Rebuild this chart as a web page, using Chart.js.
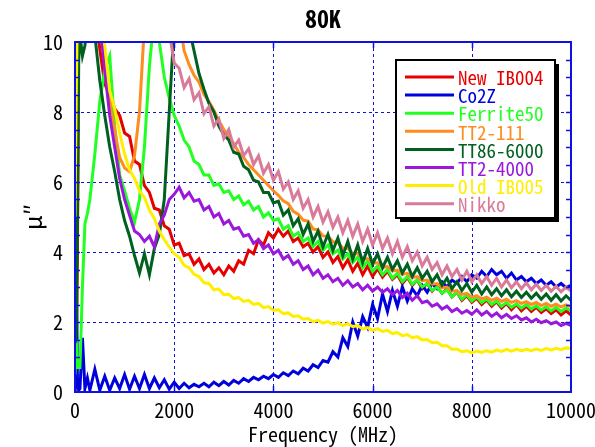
<!DOCTYPE html>
<html>
<head>
<meta charset="utf-8">
<script src="https://cdn.jsdelivr.net/npm/chart.js@4.4.1/dist/chart.umd.min.js"></script>
<style>
html, body { margin: 0; padding: 0; background: #fff; }
</style>
</head>
<body>
<canvas id="chart" width="595" height="447"></canvas>
<script>
// 80K - mu'' vs frequency for several ferrite samples

const freqMHz = [0, 25, 50, 75, 100, 150, 200, 250, 300,
    400, 500, 600, 700, 800, 900, 1000,
    1100, 1200, 1300, 1400, 1500, 1600, 1700, 1800, 1900, 2000,
    2100, 2200, 2300, 2400, 2500, 2600, 2700, 2800, 2900, 3000,
    3100, 3200, 3300, 3400, 3500, 3600, 3700, 3800, 3900, 4000,
    4100, 4200, 4300, 4400, 4500, 4600, 4700, 4800, 4900, 5000,
    5100, 5200, 5300, 5400, 5500, 5600, 5700, 5800, 5900, 6000,
    6100, 6200, 6300, 6400, 6500, 6600, 6700, 6800, 6900, 7000,
    7100, 7200, 7300, 7400, 7500, 7600, 7700, 7800, 7900, 8000,
    8100, 8200, 8300, 8400, 8500, 8600, 8700, 8800, 8900, 9000,
    9100, 9200, 9300, 9400, 9500, 9600, 9700, 9800, 9900, 10000];

const newIB004 = [0, 1.0, 4.0, 10.5, 11, 11, 11, 11, 11,
    11, 9.8, 8.8, 8.5, 8.1, 7.9, 7.4,
    7.3, 6.6, 6.5, 5.9, 5.7, 5.25, 5.2, 4.75, 4.65, 4.2,
    4.25, 3.9, 3.95, 3.65, 3.8, 3.5, 3.65, 3.4, 3.55, 3.35,
    3.6, 3.45, 3.75, 3.65, 4.05, 3.95, 4.35, 4.2, 4.55, 4.4,
    4.65, 4.45, 4.6, 4.3, 4.4, 4.15, 4.25, 4.0, 4.15, 3.85,
    4.0, 3.7, 3.87, 3.55, 3.78, 3.45, 3.68, 3.35, 3.6, 3.3,
    3.52, 3.28, 3.45, 3.22, 3.35, 3.1, 3.27, 3.05, 3.2, 2.95,
    3.1, 2.88, 3.02, 2.82, 2.95, 2.72, 2.85, 2.62, 2.75, 2.56,
    2.68, 2.5, 2.63, 2.45, 2.58, 2.4, 2.53, 2.35, 2.5, 2.32,
    2.45, 2.3, 2.42, 2.27, 2.38, 2.24, 2.35, 2.2, 2.32, 2.2];

const co2Z = [0, 4.0, 0.2, 0.05, 0.1, 1.55, 0.1, 0.4, 0.05,
    0.65, 0.05, 0.45, 0.05, 0.4, 0.1, 0.5,
    0.08, 0.45, 0.1, 0.5, 0.1, 0.4, 0.12, 0.35, 0.08, 0.28,
    0.1, 0.25, 0.12, 0.22, 0.15, 0.25, 0.15, 0.28, 0.18, 0.3,
    0.2, 0.33, 0.25, 0.38, 0.3, 0.42, 0.35, 0.45, 0.38, 0.5,
    0.42, 0.55, 0.47, 0.6, 0.52, 0.68, 0.6, 0.78, 0.7, 0.9,
    0.85, 1.15, 1.0, 1.55, 1.3, 2.0, 1.6, 2.15, 1.85, 2.5,
    2.1, 2.8, 2.3, 2.9, 2.45, 3.0, 2.6, 2.95, 2.75, 3.05,
    2.85, 3.1, 2.95, 3.15, 3.0, 3.2, 3.1, 3.3, 3.15, 3.35,
    3.25, 3.45, 3.3, 3.5, 3.35, 3.45, 3.25, 3.4, 3.2, 3.3,
    3.15, 3.25, 3.1, 3.2, 3.05, 3.15, 3.0, 3.1, 2.98, 3.05];

const ferrite50 = [0.5, 1.5, 0.7, 0.7, 0.7, 3.0, 4.8, 5.1, 5.5,
    6.8, 8.3, 9.2, 9.6, 7.6, 6.2, 5.75,
    5.25, 4.85, 5.5, 7.0, 9.3, 10.8, 10.0, 9.0, 8.4, 7.9,
    7.6, 7.2, 7.0, 6.6, 6.5, 6.2, 6.2, 5.9, 5.95, 5.7,
    5.75, 5.5, 5.6, 5.35, 5.45, 5.2, 5.3, 5.0, 5.12, 4.9,
    4.95, 4.65, 4.75, 4.45, 4.55, 4.3, 4.4, 4.15, 4.3, 4.05,
    4.2, 3.95, 4.05, 3.8, 3.95, 3.7, 3.85, 3.55, 3.75, 3.45,
    3.6, 3.35, 3.5, 3.25, 3.4, 3.15, 3.3, 3.08, 3.2, 3.0,
    3.1, 2.9, 3.0, 2.82, 2.92, 2.72, 2.85, 2.65, 2.78, 2.6,
    2.72, 2.55, 2.66, 2.5, 2.6, 2.45, 2.56, 2.42, 2.52, 2.4,
    2.5, 2.37, 2.47, 2.34, 2.44, 2.32, 2.42, 2.3, 2.4, 2.32];

const tt2_111 = [12, 12, 12, 12, 12, 12, 12, 12, 12,
    12, 11, 9.6, 8.3, 7.5, 6.7, 6.4,
    6.3, 6.75, 8.0, 10.5, 12, 12, 12, 12, 12, 12,
    10.7, 9.75, 9.35, 9.05, 8.85, 8.5, 8.3, 8.05, 7.75, 7.5,
    7.3, 7.1, 6.85, 6.7, 6.5, 6.35, 6.2, 6.05, 5.9, 5.75,
    5.62, 5.46, 5.38, 5.16, 5.08, 4.91, 4.88, 4.66, 4.63, 4.46,
    4.45, 4.29, 4.28, 4.11, 4.11, 3.96, 3.95, 3.81, 3.81, 3.68,
    3.69, 3.56, 3.58, 3.46, 3.48, 3.36, 3.39, 3.27, 3.3, 3.18,
    3.2, 3.08, 3.1, 2.98, 3.0, 2.88, 2.9, 2.79, 2.82, 2.71,
    2.75, 2.66, 2.71, 2.62, 2.68, 2.59, 2.65, 2.56, 2.61, 2.53,
    2.58, 2.5, 2.56, 2.47, 2.53, 2.45, 2.51, 2.43, 2.49, 2.43];

const tt86_6000 = [1.4, 1.6, 5.0, 9.5, 10.2, 9.6, 9.9, 10.5, 10.8,
    10.2, 8.9, 7.9, 7.0, 6.3, 5.5, 4.9,
    4.45, 3.9, 3.4, 3.95, 3.35, 4.1, 4.5, 5.5, 8.0, 10.5,
    12, 12, 10.4, 9.75, 9.1, 8.65, 8.25, 8.0, 7.6, 7.35,
    7.2, 6.85, 6.8, 6.45, 6.35, 6.05, 6.0, 5.7, 5.7, 5.4,
    5.45, 5.05, 5.2, 4.75, 4.95, 4.5, 4.8, 4.3, 4.6, 4.15,
    4.5, 4.05, 4.4, 3.9, 4.3, 3.8, 4.2, 3.7, 4.1, 3.65,
    3.95, 3.55, 3.85, 3.5, 3.75, 3.4, 3.65, 3.3, 3.55, 3.25,
    3.45, 3.15, 3.35, 3.05, 3.25, 2.95, 3.15, 2.9, 3.1, 2.85,
    3.05, 2.8, 3.0, 2.78, 2.95, 2.75, 2.92, 2.72, 2.88, 2.7,
    2.85, 2.68, 2.82, 2.65, 2.8, 2.62, 2.78, 2.6, 2.75, 2.62];

const tt2_4000 = [12, 12, 12, 12, 12, 12, 12, 12, 12,
    12, 10.6, 9.2, 7.9, 7.0, 6.1, 5.5,
    5.05, 4.6, 4.5, 4.3, 4.45, 4.15, 4.8, 5.05, 5.5, 5.65,
    5.85, 5.55, 5.7, 5.45, 5.5, 5.2, 5.3, 5.0, 5.1, 4.8,
    4.9, 4.65, 4.7, 4.45, 4.5, 4.25, 4.35, 4.1, 4.2, 3.95,
    4.05, 3.8, 3.9, 3.65, 3.75, 3.5, 3.6, 3.35, 3.48, 3.25,
    3.35, 3.15, 3.25, 3.05, 3.18, 3.0, 3.1, 2.92, 3.05, 2.88,
    3.0, 2.85, 2.95, 2.78, 2.9, 2.7, 2.82, 2.62, 2.75, 2.55,
    2.6, 2.45, 2.52, 2.37, 2.45, 2.3, 2.38, 2.25, 2.33, 2.22,
    2.35, 2.2, 2.3, 2.16, 2.26, 2.12, 2.22, 2.1, 2.18, 2.06,
    2.12, 2.0, 2.08, 1.98, 2.04, 1.95, 2.0, 1.9, 1.96, 1.9];

const oldIB005 = [5.0, 8.5, 11, 12, 12, 12, 12, 12, 12,
    12, 11, 9.9, 8.6, 8.1, 7.4, 6.8,
    6.35, 6.1, 5.75, 5.55, 5.2, 4.95, 4.6, 4.35, 4.15, 3.95,
    3.85, 3.62, 3.55, 3.36, 3.3, 3.12, 3.1, 2.92, 2.94, 2.78,
    2.79, 2.67, 2.7, 2.59, 2.62, 2.5, 2.53, 2.41, 2.44, 2.33,
    2.35, 2.24, 2.26, 2.16, 2.18, 2.08, 2.1, 2.01, 2.05, 1.97,
    2.01, 1.94, 1.98, 1.9, 1.95, 1.87, 1.9, 1.8, 1.84, 1.76,
    1.81, 1.73, 1.76, 1.67, 1.7, 1.61, 1.64, 1.55, 1.58, 1.49,
    1.5, 1.41, 1.42, 1.32, 1.32, 1.22, 1.23, 1.15, 1.18, 1.12,
    1.17, 1.13, 1.18, 1.14, 1.2, 1.16, 1.22, 1.17, 1.22, 1.18,
    1.22, 1.18, 1.23, 1.19, 1.24, 1.2, 1.25, 1.21, 1.26, 1.24];

const nikko = [12, 12, 12, 12, 12, 12, 12, 12, 12,
    12, 12, 12, 12, 12, 12, 12,
    12, 12, 12, 12, 12, 12, 12, 12, 10.3, 9.4,
    9.25, 8.7, 8.95, 8.35, 8.55, 7.95, 8.15, 7.6, 7.8, 7.25,
    7.5, 7.0, 7.2, 6.75, 6.95, 6.5, 6.75, 6.25, 6.5, 6.05,
    6.3, 5.8, 6.0, 5.5, 5.75, 5.25, 5.5, 5.0, 5.3, 4.85,
    5.15, 4.7, 5.0, 4.55, 4.9, 4.45, 4.8, 4.3, 4.65, 4.2,
    4.55, 4.1, 4.4, 3.95, 4.3, 3.85, 4.15, 3.75, 4.0, 3.6,
    3.85, 3.5, 3.7, 3.35, 3.6, 3.3, 3.5, 3.2, 3.45, 3.15,
    3.35, 3.1, 3.3, 3.05, 3.25, 3.0, 3.2, 2.98, 3.15, 2.95,
    3.12, 2.92, 3.08, 2.9, 3.05, 2.88, 3.02, 2.86, 3.0, 2.88];

const seriesNames = ['New IB004', 'Co2Z', 'Ferrite50', 'TT2-111', 'TT86-6000', 'TT2-4000', 'Old IB005', 'Nikko'];
const seriesValues = [newIB004, co2Z, ferrite50, tt2_111, tt86_6000, tt2_4000, oldIB005, nikko];
const seriesColors = ['#e60000', '#0000dc', '#22ff22', '#ff8c1e', '#006020', '#9a18dc', '#ffee00', '#d87a98'];

const xTicks = [0, 2000, 4000, 6000, 8000, 10000];
const yTicks = [0, 2, 4, 6, 8, 10];

const MONO = "'Noto Sans Mono CJK JP', 'Liberation Mono', monospace";
const FRAME = '#1010e0';

const framePlugin = {
    id: 'frame',
    beforeDatasetsDraw(chart) {
        const { ctx, chartArea: a, scales: { x, y } } = chart;
        ctx.save();
        ctx.strokeStyle = FRAME;
        ctx.lineWidth = 1;
        ctx.setLineDash([3, 3]);
        ctx.beginPath();
        yTicks.slice(1, -1).forEach(v => {
            const py = Math.round(y.getPixelForValue(v)) + 0.5;
            ctx.moveTo(a.left, py);
            ctx.lineTo(a.right, py);
        });
        xTicks.slice(1, -1).forEach(v => {
            const px = Math.round(x.getPixelForValue(v)) + 0.5;
            ctx.moveTo(px, a.top);
            ctx.lineTo(px, a.bottom);
        });
        ctx.stroke();
        ctx.restore();
    },
    afterDatasetsDraw(chart) {
        const { ctx, chartArea: a, scales: { x, y } } = chart;
        ctx.save();
        // plot frame + inward ticks
        ctx.strokeStyle = FRAME;
        ctx.lineWidth = 2;
        ctx.strokeRect(a.left, a.top, a.right - a.left, a.bottom - a.top);
        ctx.lineWidth = 1.5;
        ctx.beginPath();
        for (let v = 0.5; v < 10; v += 0.5) {
            const py = Math.round(y.getPixelForValue(v)) + 0.5;
            ctx.moveTo(a.left, py); ctx.lineTo(a.left + 5, py);
            ctx.moveTo(a.right, py); ctx.lineTo(a.right - 5, py);
        }
        xTicks.slice(1, -1).forEach(v => {
            const px = Math.round(x.getPixelForValue(v)) + 0.5;
            ctx.moveTo(px, a.top); ctx.lineTo(px, a.top + 6);
            ctx.moveTo(px, a.bottom); ctx.lineTo(px, a.bottom - 6);
        });
        ctx.stroke();

        // legend box
        const lx = 396, ly = 60, lw = 159, lh = 158;
        ctx.fillStyle = '#000';
        ctx.fillRect(lx + 4, ly + 4, lw, lh);
        ctx.fillStyle = '#fff';
        ctx.fillRect(lx, ly, lw, lh);
        ctx.strokeStyle = '#000';
        ctx.lineWidth = 2;
        ctx.strokeRect(lx, ly, lw, lh);
        ctx.font = '19px ' + MONO;
        ctx.textBaseline = 'middle';
        ctx.textAlign = 'left';
        chart.data.datasets.forEach((ds, i) => {
            const ry = ly + 17 + i * 18.1;
            ctx.strokeStyle = ds.borderColor;
            ctx.lineWidth = 3;
            ctx.beginPath();
            ctx.moveTo(lx + 9, ry);
            ctx.lineTo(lx + 58, ry);
            ctx.stroke();
            ctx.fillStyle = ds.borderColor;
            ctx.fillText(ds.label, lx + 62, ry + 1);
        });

        // title
        ctx.fillStyle = '#000';
        ctx.font = 'bold 24px ' + MONO;
        ctx.textAlign = 'center';
        ctx.fillText('80K', (a.left + a.right) / 2, 19);
        ctx.restore();
    }
};

const ctx = document.getElementById('chart').getContext('2d');
window.muChart = new Chart(ctx, {
    type: 'line',
    data: {
        datasets: seriesNames.map((name, i) => ({
            label: name,
            data: seriesValues[i].map((v, j) => ({ x: freqMHz[j], y: v })),
            borderColor: seriesColors[i],
            backgroundColor: seriesColors[i],
            borderWidth: 3,
            pointRadius: 0,
            tension: 0,
            fill: false,
            order: seriesNames.length - i,
            clip: 1
        }))
    },
    options: {
        responsive: false,
        animation: false,
        layout: { padding: { top: 42, right: 24, left: 0, bottom: 0 } },
        plugins: {
            legend: { display: false },
            title: { display: false },
            tooltip: { enabled: false }
        },
        scales: {
            x: {
                type: 'linear',
                min: 0,
                max: 10000,
                ticks: { stepSize: 2000, color: '#000', font: { family: MONO, size: 20 }, padding: 6, maxRotation: 0, callback: v => String(v) },
                grid: { display: false, drawTicks: false },
                border: { display: false },
                title: { display: true, text: 'Frequency (MHz)', color: '#000', font: { family: MONO, size: 20 }, padding: { top: 0, bottom: 1 } },
                afterFit: s => { s.height = 55; s.paddingLeft = 0; s.paddingRight = 0; }
            },
            y: {
                min: 0,
                max: 10,
                ticks: { stepSize: 2, color: '#000', font: { family: MONO, size: 20 }, padding: 12, callback: v => String(v) },
                grid: { display: false, drawTicks: false },
                border: { display: false },
                title: { display: true, text: 'μ″', color: '#000', font: { family: MONO, size: 24 }, padding: { top: 18, bottom: 0 } },
                afterFit: s => { s.width = 75; s.paddingTop = 0; s.paddingBottom = 0; }
            }
        }
    },
    plugins: [framePlugin]
});
</script>
</body>
</html>
